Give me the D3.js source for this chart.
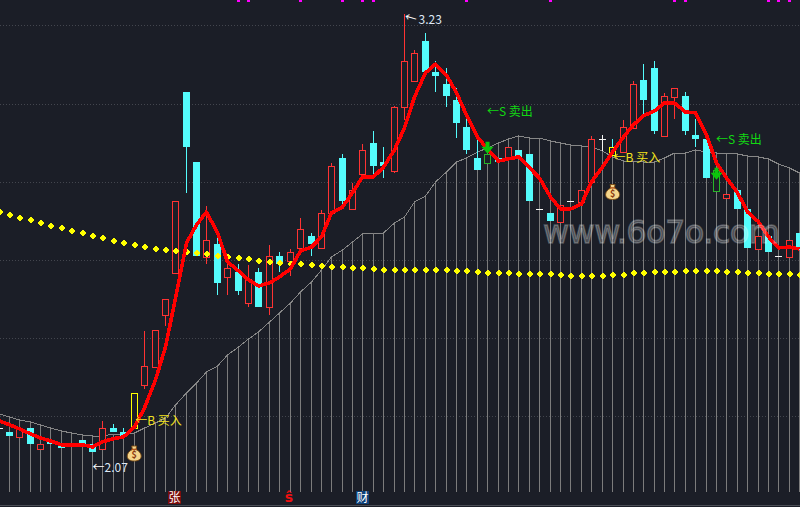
<!DOCTYPE html>
<html>
<head>
<meta charset="utf-8">
<script src="https://cdn.jsdelivr.net/npm/d3@7/dist/d3.min.js"></script>
<style>
html,body{margin:0;padding:0;background:#1b1e27;overflow:hidden}
svg{display:block}
text{font-family:"Noto Sans CJK SC","DejaVu Sans",sans-serif}
</style>
</head>
<body>
<svg id="chart" width="800" height="507"></svg>
<script>
const firstBar = -1;
const opens = [2.133,2.122,2.109,2.133,2.077,2.098,2.090,2.088,2.101,2.090,2.077,2.133,2.122,2.133,2.247,2.294,2.432,2.544,3.023,2.838,2.586,2.620,2.533,2.546,2.464,2.546,2.453,2.589,2.575,2.610,2.642,2.610,2.703,2.848,2.713,2.806,2.888,2.838,2.814,2.983,3.052,3.158,3.076,3.044,3.002,2.930,2.848,2.859,2.848,2.848,2.870,2.859,2.713,2.703,2.679,2.734,2.732,2.785,2.899,2.877,2.864,2.928,3.055,3.087,2.907,3.010,3.013,2.909,2.899,2.817,2.742,2.764,2.713,2.607,2.642,2.589,2.586,2.650];
const closes = [2.133,2.112,2.133,2.090,2.090,2.090,2.080,2.085,2.088,2.070,2.133,2.122,2.109,2.226,2.297,2.393,2.475,2.734,2.877,2.589,2.631,2.517,2.557,2.496,2.528,2.453,2.589,2.567,2.599,2.660,2.620,2.703,2.827,2.734,2.764,2.870,2.827,2.827,2.983,3.105,3.127,3.076,3.066,3.013,2.941,2.870,2.817,2.835,2.838,2.877,2.848,2.734,2.713,2.681,2.724,2.734,2.764,2.899,2.899,2.856,2.930,3.044,3.002,2.920,3.013,3.034,2.920,2.899,2.795,2.761,2.753,2.713,2.610,2.642,2.599,2.589,2.631,2.605];
const highs = [2.133,2.122,2.133,2.133,2.090,2.098,2.090,2.088,2.101,2.090,2.151,2.143,2.133,2.226,2.390,2.393,2.475,2.734,3.023,2.838,2.721,2.636,2.570,2.567,2.565,2.557,2.618,2.599,2.607,2.689,2.650,2.711,2.835,2.859,2.782,2.885,2.920,2.877,2.986,3.230,3.135,3.180,3.105,3.087,3.034,2.962,2.899,2.859,2.848,2.877,2.870,2.859,2.713,2.703,2.724,2.734,2.764,2.907,2.909,2.899,2.949,3.052,3.097,3.105,3.021,3.034,3.023,2.952,2.899,2.817,2.753,2.764,2.713,2.642,2.642,2.589,2.631,2.650];
const lows = [2.133,2.112,2.109,2.090,2.077,2.090,2.080,2.085,2.088,2.070,2.077,2.122,2.109,2.133,2.236,2.294,2.403,2.544,2.756,2.589,2.567,2.485,2.485,2.485,2.453,2.453,2.432,2.546,2.536,2.610,2.589,2.610,2.703,2.713,2.713,2.806,2.806,2.795,2.809,2.949,3.052,3.076,3.023,2.983,2.901,2.859,2.817,2.835,2.838,2.848,2.848,2.734,2.713,2.681,2.679,2.734,2.732,2.785,2.867,2.856,2.864,2.928,2.962,2.912,2.907,2.952,2.909,2.877,2.795,2.761,2.742,2.713,2.610,2.607,2.599,2.589,2.586,2.605];
const maLine = [2.151,2.141,2.130,2.117,2.106,2.098,2.088,2.088,2.088,2.082,2.096,2.104,2.109,2.135,2.186,2.260,2.347,2.477,2.623,2.671,2.705,2.650,2.573,2.549,2.525,2.509,2.517,2.533,2.554,2.602,2.612,2.639,2.703,2.718,2.756,2.798,2.798,2.824,2.870,2.928,3.010,3.074,3.097,3.068,3.021,2.962,2.904,2.872,2.840,2.846,2.851,2.822,2.795,2.745,2.713,2.713,2.726,2.785,2.824,2.864,2.904,2.936,2.960,2.973,2.994,2.994,2.970,2.968,2.909,2.835,2.795,2.756,2.705,2.679,2.639,2.610,2.612,2.607];
const longMa = [2.705,2.697,2.689,2.684,2.676,2.668,2.663,2.655,2.650,2.642,2.636,2.628,2.623,2.618,2.612,2.607,2.605,2.602,2.599,2.597,2.594,2.589,2.586,2.583,2.581,2.575,2.573,2.570,2.567,2.567,2.565,2.562,2.559,2.559,2.557,2.557,2.554,2.552,2.552,2.552,2.552,2.552,2.552,2.552,2.549,2.549,2.546,2.544,2.544,2.544,2.541,2.541,2.541,2.541,2.538,2.536,2.536,2.536,2.536,2.538,2.538,2.544,2.544,2.546,2.546,2.546,2.549,2.549,2.549,2.549,2.546,2.546,2.544,2.544,2.541,2.541,2.541,2.538];
const volumes = [7800,7500,7200,7000,6700,6400,6100,5900,5700,5600,5600,5800,5800,5900,6400,6900,7400,8700,9900,10900,12000,12600,13700,14500,15300,16000,17000,17900,18900,20000,21000,22200,23500,24200,25000,25800,25900,25900,26900,27500,29000,29600,31000,32000,33000,33400,34000,34400,34900,35300,35600,35400,35400,35100,34900,34700,34600,34500,34100,33500,33100,33100,33000,33000,33400,33900,33900,34200,34000,33900,33900,33800,33600,33500,33300,32800,32400,31900];
const gridPrices = [3.201,2.991,2.785,2.578,2.371,2.165];
const buyBars = [12,58];
const sellBars = [46,68];
const sellArrowPrices = [2.891,2.822];
const markerBars = [22,23,28,32,34,35,44,52,64,65,73,74,75];
const buyLabel = "←B 买入";
const sellLabel = "←S 卖出";
const lowLabel = "2.07";
const highLabel = "3.23";
const watermark = "www.6o7o.com";

const bars = opens.map((o,k)=>({i:firstBar+k,o,c:closes[k],h:highs[k],l:lows[k]}));
const x = d3.scaleLinear().domain([-1,76]).range([-1,799.8]);
const pix = i => Math.floor(x(i));
const y = d3.scaleLinear().domain([3.267,1.923]).range([0,507]);
const yVol = d3.scaleLinear().domain([0,40000]).range([492,92]);
const svg = d3.select("#chart");
const BG="#1b1e27",RED="#ff3333",CYAN="#54fcfc",YEL="#ffff00",GRN="#28b428",WHITE="#f4f4f4";

svg.append("rect").attr("width",800).attr("height",507).attr("fill",BG);
svg.append("g").selectAll("line").data(gridPrices).join("line")
  .attr("x1",0).attr("x2",800).attr("y1",d=>Math.round(y(d))+.5).attr("y2",d=>Math.round(y(d))+.5)
  .attr("stroke","#43464e").attr("stroke-width",1).attr("stroke-dasharray","1 2");
svg.append("line").attr("x1",0).attr("x2",800).attr("y1",505.5).attr("y2",505.5).attr("stroke","#4a4d55");

// volume stems and outline
svg.append("g").attr("shape-rendering","crispEdges").selectAll("line").data(volumes).join("line")
  .attr("x1",(d,k)=>pix(firstBar+k)+.5).attr("x2",(d,k)=>pix(firstBar+k)+.5)
  .attr("y1",d=>yVol(d)).attr("y2",yVol(0))
  .attr("stroke","#7c7c7c").attr("stroke-width",1);
svg.append("path").datum(volumes)
  .attr("d",d3.line().x((d,k)=>pix(firstBar+k)+.5).y(d=>yVol(d)))
  .attr("fill","none").attr("stroke","#878787").attr("stroke-width",1).attr("shape-rendering","crispEdges");

// candles
function tone(b){return b.c>b.o?RED:(b.c<b.o?CYAN:WHITE);}
function bodyTone(b){
  if(buyBars.includes(b.i))return YEL;
  if(sellBars.includes(b.i))return GRN;
  return tone(b);
}
const cg=svg.append("g").attr("shape-rendering","crispEdges");
cg.selectAll("line.wick").data(bars).join("line").attr("class","wick")
  .attr("x1",b=>pix(b.i)+.5).attr("x2",b=>pix(b.i)+.5)
  .attr("y1",b=>y(b.h)).attr("y2",b=>y(b.l)).attr("stroke",tone);
cg.selectAll("rect.body").data(bars.filter(b=>b.o!==b.c)).join("rect").attr("class","body")
  .each(function(b){
    const top=Math.round(y(Math.max(b.o,b.c))),bot=Math.round(y(Math.min(b.o,b.c)));
    const hollow=b.c>b.o||sellBars.includes(b.i)||buyBars.includes(b.i);
    const cx=pix(b.i);
    d3.select(this)
      .attr("x",hollow?cx-3+.5:cx-3).attr("width",hollow?6:7)
      .attr("y",hollow?top+.5:top).attr("height",Math.max(1,bot-top))
      .attr("fill",hollow?BG:bodyTone(b)).attr("stroke",hollow?bodyTone(b):"none");
  });
cg.selectAll("line.doji").data(bars.filter(b=>b.o===b.c)).join("line").attr("class","doji")
  .attr("x1",b=>pix(b.i)-3).attr("x2",b=>pix(b.i)+4)
  .attr("y1",b=>Math.round(y(b.o))+.5).attr("y2",b=>Math.round(y(b.o))+.5).attr("stroke",WHITE);

// long average dots
svg.append("g").attr("shape-rendering","crispEdges").selectAll("path").data(longMa).join("path")
  .attr("transform",(d,k)=>`translate(${pix(firstBar+k)+.5},${Math.round(y(d))})`)
  .attr("d","M-1,-3H1V-2H2V-1H3V1H2V2H1V3H-1V2H-2V1H-3V-1H-2V-2H-1Z")
  .attr("fill",YEL);

// short average
svg.append("path").datum(maLine)
  .attr("d",d3.line().x((d,k)=>pix(firstBar+k)+.5).y(d=>y(d)))
  .attr("fill","none").attr("stroke","#ff0000").attr("stroke-width",3.6).attr("stroke-linejoin","round")
  .attr("shape-rendering","crispEdges");

// top markers
svg.append("g").selectAll("rect").data(markerBars).join("rect")
  .attr("x",d=>pix(d)-1).attr("y",0).attr("width",3).attr("height",2).attr("fill","#ff00ff");

// sell arrows
svg.append("g").selectAll("path").data(sellBars).join("path")
  .attr("transform",(d,k)=>`translate(${pix(d)+.5},${y(sellArrowPrices[k])})`)
  .attr("d","M-2,0H2V5H6L0,12L-6,5H-2Z").attr("fill","#0cc40c");

// signal labels
const label=(tx,ty,t,c,size)=>svg.append("text").attr("x",tx).attr("y",ty).attr("fill",c)
  .attr("font-size",size||12).attr("dominant-baseline","middle").text(t);
buyBars.forEach((b,k)=>label(x(b)+1,y(opens[b-firstBar])+(k?12:-6),buyLabel,"#f2e21e"));
label(487,113,sellLabel,"#12d812");
label(716,141,sellLabel,"#12d812");

// extreme labels
label(x(8),469,"←","#ffffff");
label(x(8)+12,469,lowLabel,"#dfe9f5");
svg.append("text").attr("transform",`translate(${x(38)},17) rotate(16)`).attr("fill","#fff").attr("font-size",12)
  .attr("dominant-baseline","middle").text("←");
label(418.5,21,highLabel,"#dfe9f5");

// money bags
function bag(cx,cy){
  const g=svg.append("g").attr("transform",`translate(${cx},${cy})`);
  g.append("path").attr("d","M-2.5,-7.5H2.5L1.8,-4C5,-2.5 7,0 7,2.5C7,6 4,7.5 0,7.5C-4,7.5 -7,6 -7,2.5C-7,0 -5,-2.5 -1.8,-4Z")
    .attr("fill","#f5d68c").attr("stroke","#7a4a12").attr("stroke-width",.9);
  g.append("rect").attr("x",-2.6).attr("y",-4.8).attr("width",5.2).attr("height",1.4).attr("fill","#b2551a");
  g.append("text").attr("y",2.3).attr("text-anchor","middle").attr("dominant-baseline","middle")
    .attr("font-size",9).attr("font-weight",700).attr("fill","#8a3a10").text("$");
}
bag(x(12),453.5);
bag(x(58),192);

// info tags
function tag(tx,c,t){
  svg.append("rect").attr("x",tx).attr("y",491).attr("width",13).attr("height",13).attr("fill",c);
  svg.append("text").attr("x",tx+6.5).attr("y",498.5).attr("text-anchor","middle").attr("dominant-baseline","middle")
    .attr("font-size",12).attr("fill","#fff").text(t);
}
tag(168,"#7a0c0c","张");
tag(356,"#0d3f78","财");
svg.append("text").attr("x",289).attr("y",498).attr("text-anchor","middle").attr("dominant-baseline","middle")
  .attr("font-size",14).attr("font-weight",700).attr("fill","#f01010").text("ŝ");

// watermark
svg.append("text").attr("x",543).attr("y",243).attr("font-size",32)
  .style("font-family","'DejaVu Sans',sans-serif")
  .attr("textLength",237).attr("lengthAdjust","spacing")
  .attr("fill","#ffffff").attr("fill-opacity",.24).attr("stroke","#ffffff").attr("stroke-opacity",.24).attr("stroke-width",1.4)
  .text(watermark);
</script>
</body>
</html>
